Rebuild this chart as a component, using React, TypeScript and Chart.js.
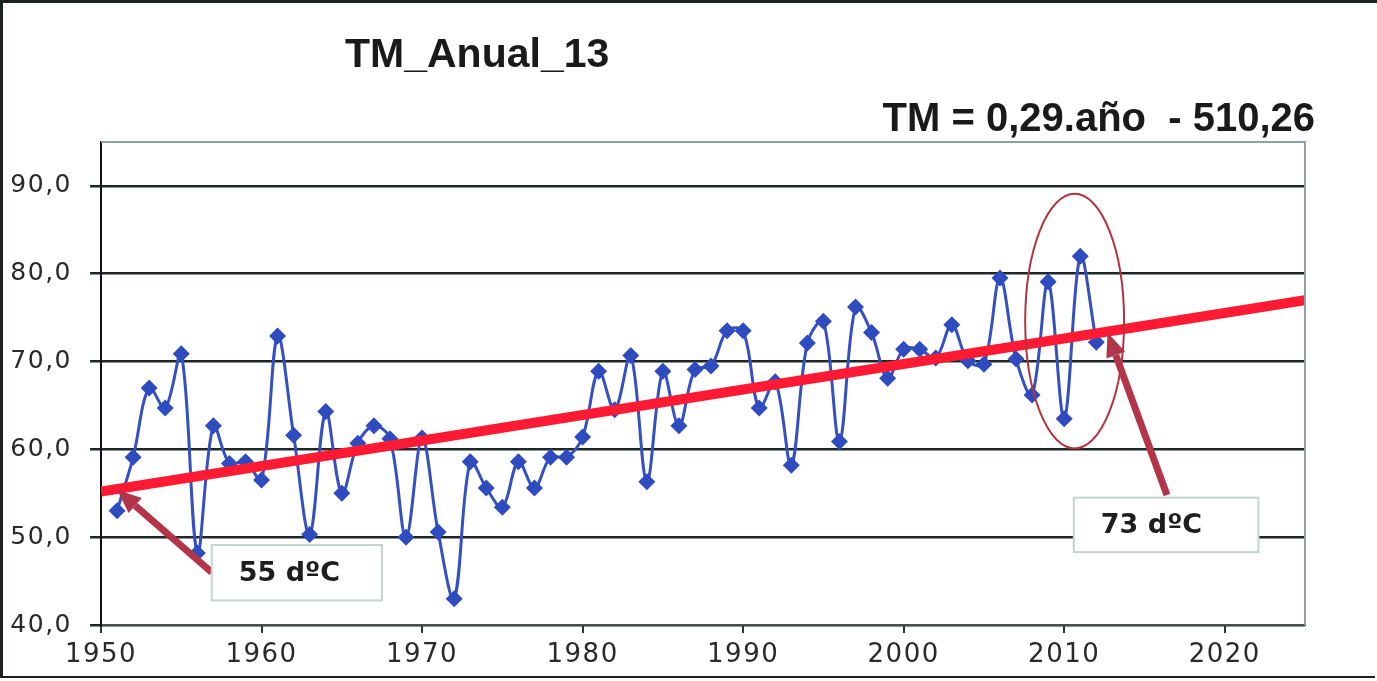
import React, { useEffect, useRef } from "react";
import { Chart, registerables } from "chart.js";

Chart.register(...registerables);

const years = [
  1951, 1952, 1953, 1954, 1955, 1956, 1957, 1958, 1959, 1960,
  1961, 1962, 1963, 1964, 1965, 1966, 1967, 1968, 1969, 1970,
  1971, 1972, 1973, 1974, 1975, 1976, 1977, 1978, 1979, 1980,
  1981, 1982, 1983, 1984, 1985, 1986, 1987, 1988, 1989, 1990,
  1991, 1992, 1993, 1994, 1995, 1996, 1997, 1998, 1999, 2000,
  2001, 2002, 2003, 2004, 2005, 2006, 2007, 2008, 2009, 2010,
  2011, 2012,
];
const tmValues = [
  53.0, 59.1, 67.0, 64.7, 70.9, 48.2, 62.7, 58.4, 58.6, 56.5,
  72.9, 61.6, 50.3, 64.3, 55.0, 60.7, 62.7, 61.2, 50.0, 61.3,
  50.6, 43.0, 58.6, 55.6, 53.4, 58.6, 55.6, 59.1, 59.1, 61.4,
  68.9, 64.5, 70.7, 56.3, 68.9, 62.7, 69.1, 69.5, 73.5, 73.5,
  64.7, 67.7, 58.2, 72.1, 74.6, 60.9, 76.2, 73.3, 68.1, 71.4,
  71.4, 70.4, 74.2, 70.1, 69.7, 79.5, 70.3, 66.2, 79.1, 63.5,
  82.0, 72.2,
];
const trendYears = [1950, 2025];
const trendValues = [55.2, 77.0];

const titleText = "TM_Anual_13";
const formulaText = "TM = 0,29.año  - 510,26";

const xMin = 1950;
const xMax = 2025;
const yMin = 40;
const yMax = 95;
const tickStep = 10;

// annotations in data coordinates
const calloutLabels = ["55 dºC", "73 dºC"];
const calloutBoxes = [
  { x0: 1956.9, x1: 1967.5, y0: 49.1, y1: 42.8 },
  { x0: 2010.6, x1: 2022.1, y0: 54.5, y1: 48.3 },
];
const arrows = [
  { fromX: 1956.9, fromY: 46.0, toX: 1951.0, toY: 55.4 },
  { fromX: 2016.4, fromY: 54.8, toX: 2012.7, toY: 73.3 },
];
const ellipse = { cx: 2010.65, cy: 74.6, rx: 3.08, ry: 14.5 };

const decoPlugin = {
  id: "deco",
  beforeDraw(chart: any) {
    chart.ctx.letterSpacing = "1.5px";
  },
  beforeDatasetsDraw(chart: any) {
    chart.ctx.letterSpacing = "0px";
  },
  afterDatasetsDraw(chart: any) {
    const { ctx, scales, chartArea } = chart;
    const xs = scales.x;
    const ys = scales.y;
    ctx.save();
    ctx.letterSpacing = "0px";
    // plot border top/right
    ctx.strokeStyle = "#8fa0a0";
    ctx.lineWidth = 2;
    ctx.beginPath();
    ctx.moveTo(chartArea.left, chartArea.top);
    ctx.lineTo(chartArea.right, chartArea.top);
    ctx.lineTo(chartArea.right, chartArea.bottom);
    ctx.stroke();

    // ellipse
    const ecx = xs.getPixelForValue(ellipse.cx);
    const ecy = ys.getPixelForValue(ellipse.cy);
    const erx = Math.abs(xs.getPixelForValue(ellipse.cx + ellipse.rx) - ecx);
    const ery = Math.abs(ys.getPixelForValue(ellipse.cy + ellipse.ry) - ecy);
    ctx.strokeStyle = "#b3343f";
    ctx.lineWidth = 2;
    ctx.beginPath();
    ctx.ellipse(ecx, ecy, erx, ery, 0, 0, Math.PI * 2);
    ctx.stroke();

    // arrows
    ctx.strokeStyle = "#b3354a";
    ctx.fillStyle = "#b3354a";
    arrows.forEach((a) => {
      const x0 = xs.getPixelForValue(a.fromX);
      const y0 = ys.getPixelForValue(a.fromY);
      const x1 = xs.getPixelForValue(a.toX);
      const y1 = ys.getPixelForValue(a.toY);
      const ang = Math.atan2(y1 - y0, x1 - x0);
      const headLen = 24;
      const headW = 10;
      const bx = x1 - Math.cos(ang) * headLen;
      const by = y1 - Math.sin(ang) * headLen;
      ctx.lineWidth = 7;
      ctx.beginPath();
      ctx.moveTo(x0, y0);
      ctx.lineTo(bx, by);
      ctx.stroke();
      ctx.beginPath();
      ctx.moveTo(x1, y1);
      ctx.lineTo(bx + Math.sin(ang) * headW, by - Math.cos(ang) * headW);
      ctx.lineTo(bx - Math.sin(ang) * headW, by + Math.cos(ang) * headW);
      ctx.closePath();
      ctx.fill();
    });

    // boxes
    calloutBoxes.forEach((b, i) => {
      const l = xs.getPixelForValue(b.x0);
      const r = xs.getPixelForValue(b.x1);
      const t = ys.getPixelForValue(b.y0);
      const bt = ys.getPixelForValue(b.y1);
      ctx.fillStyle = "#ffffff";
      ctx.fillRect(l, t, r - l, bt - t);
      ctx.strokeStyle = "#c3d6ce";
      ctx.lineWidth = 2;
      ctx.strokeRect(l, t, r - l, bt - t);
      ctx.fillStyle = "#1e1e1e";
      ctx.font = 'bold 27px "DejaVu Sans"';
      ctx.textAlign = "left";
      ctx.textBaseline = "middle";
      ctx.fillText(calloutLabels[i], l + 27, (t + bt) / 2 + 1);
    });
    ctx.restore();
  },
  afterDraw(chart: any) {
    const { ctx, width } = chart;
    ctx.save();
    ctx.letterSpacing = "0px";
    // outer frame
    ctx.fillStyle = "#1c2222";
    ctx.fillRect(0, 0, width, 3);
    ctx.fillRect(0, 0, 3, 678);
    ctx.fillRect(0, 676, width - 2, 2);
    // titles
    ctx.fillStyle = "#1a1a1a";
    ctx.textBaseline = "alphabetic";
    ctx.textAlign = "left";
    ctx.font = 'bold 41px "Liberation Sans"';
    ctx.fillText(titleText, 345, 67);
    ctx.textAlign = "right";
    ctx.font = 'bold 40px "Liberation Sans"';
    ctx.fillText(formulaText, 1315, 131);
    ctx.restore();
  },
};

export default function App() {
  const canvasRef = useRef<HTMLCanvasElement | null>(null);

  useEffect(() => {
    if (!canvasRef.current) return;
    const seriesData = years.map((y, i) => ({ x: y, y: tmValues[i] }));
    const trendData = trendYears.map((y, i) => ({ x: y, y: trendValues[i] }));
    const chart = new Chart(canvasRef.current, {
      type: "line",
      data: {
        datasets: [
          {
            label: "Tendencia",
            data: trendData,
            borderColor: "#ff1a33",
            borderWidth: 10,
            pointRadius: 0,
            tension: 0,
            order: 0,
          },
          {
            label: "TM",
            data: seriesData,
            borderColor: "#3550c2",
            backgroundColor: "#2f4bc0",
            borderWidth: 3,
            pointStyle: "rectRot",
            pointRadius: 8.5,
            pointBorderWidth: 0,
            tension: 0.35,
            order: 1,
          },
        ],
      },
      options: {
        responsive: false,
        animation: false,
        devicePixelRatio: 1,
        layout: { padding: { top: 142, right: 72, left: 0, bottom: 0 } },
        plugins: {
          legend: { display: false },
          title: { display: false },
          tooltip: { enabled: false },
        },
        scales: {
          x: {
            type: "linear",
            min: xMin,
            max: xMax,
            afterBuildTicks: (s: any) => {
              s.ticks = s.ticks.filter((t: any) => t.value % tickStep === 0);
            },
            afterFit: (s: any) => {
              s.height = 56;
            },
            ticks: {
              stepSize: tickStep,
              includeBounds: false,
              autoSkip: false,
              maxRotation: 0,
              callback: (v: any) => String(v),
              font: { family: "DejaVu Sans", size: 26 },
              color: "#2a2a2a",
              padding: 7,
            },
            grid: {
              drawOnChartArea: false,
              drawTicks: true,
              tickLength: 8,
              color: "#333333",
              lineWidth: 2,
            },
            border: { color: "#4a5050", width: 2 },
          },
          y: {
            type: "linear",
            min: yMin,
            max: yMax,
            afterBuildTicks: (s: any) => {
              s.ticks = s.ticks.filter((t: any) => t.value % tickStep === 0);
            },
            afterFit: (s: any) => {
              s.width = 101;
            },
            ticks: {
              stepSize: tickStep,
              includeBounds: false,
              callback: (v: any) => Number(v).toFixed(1).replace(".", ","),
              font: { family: "DejaVu Sans", size: 25 },
              color: "#2a2a2a",
              padding: 18,
            },
            grid: {
              color: "#1e2828",
              lineWidth: 2.5,
              tickLength: 11,
              drawTicks: true,
            },
            border: { color: "#111111", width: 2 },
          },
        },
      },
      plugins: [decoPlugin],
    });
    return () => chart.destroy();
  }, []);

  return (
    <div style={{ position: "fixed", left: 0, top: 0, width: 1377, height: 681, background: "#fff" }}>
      <canvas ref={canvasRef} width={1377} height={681} style={{ display: "block" }} />
    </div>
  );
}
